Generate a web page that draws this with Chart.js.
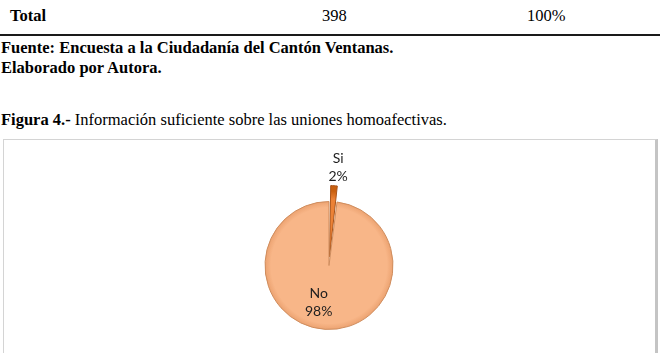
<!DOCTYPE html>
<html>
<head>
<meta charset="utf-8">
<script src="https://cdn.jsdelivr.net/npm/chart.js@4.4.0/dist/chart.umd.min.js"></script>
<style>
  html, body { margin: 0; padding: 0; width: 663px; height: 353px; overflow: hidden; background: #fff; }
  .txt { position: absolute; font-family: "Liberation Serif", "Times New Roman", serif; font-size: 16.5px; line-height: 18px; color: #000; white-space: nowrap; }
  .b { font-weight: bold; }
  #rule { position: absolute; left: 0; top: 34px; width: 660px; height: 2px; background: #1a1a1a; }
  #box { position: absolute; left: 3px; top: 139px; width: 651px; height: 230px; border: 1px solid #d4d4d4; border-right: 3px solid #c4c4c4; }
  #wrap { position: absolute; left: 4px; top: 140px; width: 650px; height: 213px; }
</style>
</head>
<body>
<div class="txt b" style="left:10px; top:7px;">Total</div>
<div class="txt" style="left:322px; top:7px;">398</div>
<div class="txt" style="left:527px; top:7px;">100%</div>
<div id="rule"></div>
<div class="txt b" style="left:1px; top:39px;">Fuente: Encuesta a la Ciudadanía del Cantón Ventanas.</div>
<div class="txt b" style="left:1px; top:59px;">Elaborado por Autora.</div>
<div class="txt" style="left:1px; top:111px;"><b>Figura 4.-</b> Información suficiente sobre las uniones homoafectivas.</div>
<div id="box"></div>
<div id="wrap"><canvas id="pieChart" width="650" height="213"></canvas></div>
<script>
// data
var labels = ['Si', 'No'];
var percents = [2, 98];

// colours: peach for No, darker orange for Si
var sliceTop = ['#ec8236', '#f8b688'];
var sliceEdge = ['#c9600f', '#e89c69'];
var sliceBorder = ['#a9541a', '#cf8d5e'];

// radial shading so the pie looks a bit like the office 3D style
function shade(context) {
    var chart = context.chart;
    var area = chart.chartArea;
    var i = context.dataIndex;
    if (!area) return sliceTop[i];
    var cx = (area.left + area.right) / 2;
    var cy = (area.top + area.bottom) / 2;
    var g = chart.ctx.createRadialGradient(cx, cy, 0, cx, cy, 100);
    g.addColorStop(0, sliceTop[i]);
    g.addColorStop(0.58, sliceTop[i]);
    g.addColorStop(0.66, sliceEdge[i]);
    g.addColorStop(1, sliceEdge[i]);
    return g;
}

// labels "Si / 2%" outside and "No / 98%" inside
var pieLabels = {
    id: 'pieLabels',
    afterDatasetsDraw: function (chart, args, opts) {
        var ctx = chart.ctx;
        var meta = chart.getDatasetMeta(0);
        ctx.save();
        ctx.font = '14px Lato, "Open Sans", sans-serif';
        ctx.fillStyle = '#1e1e1e';
        ctx.textAlign = 'center';
        ctx.textBaseline = 'middle';
        meta.data.forEach(function (arc, i) {
            var p = arc.getProps(['x', 'y', 'startAngle', 'endAngle']);
            var mid = (p.startAngle + p.endAngle) / 2;
            var d = opts.dist[i];
            var x = p.x + Math.cos(mid) * d + opts.shiftX[i];
            var y = p.y + Math.sin(mid) * d;
            ctx.fillText(labels[i], x, y - 9);
            ctx.fillText(percents[i] + '%', x, y + 9);
        });
        ctx.restore();
    }
};

var ctx = document.getElementById('pieChart').getContext('2d');
var pieChart = new Chart(ctx, {
    type: 'pie',
    data: {
        labels: labels,
        datasets: [{
            data: percents,
            backgroundColor: shade,
            borderColor: sliceBorder,
            borderWidth: 1,
            offset: [34, 0]
        }]
    },
    options: {
        responsive: false,
        animation: false,
        radius: 64,
        layout: { padding: { top: 38, bottom: 0 } },
        events: [],
        plugins: {
            legend: { display: false },
            tooltip: { enabled: false },
            pieLabels: { dist: [98, 37], shiftX: [3, -8] }
        }
    },
    plugins: [pieLabels]
});
</script>
</body>
</html>
